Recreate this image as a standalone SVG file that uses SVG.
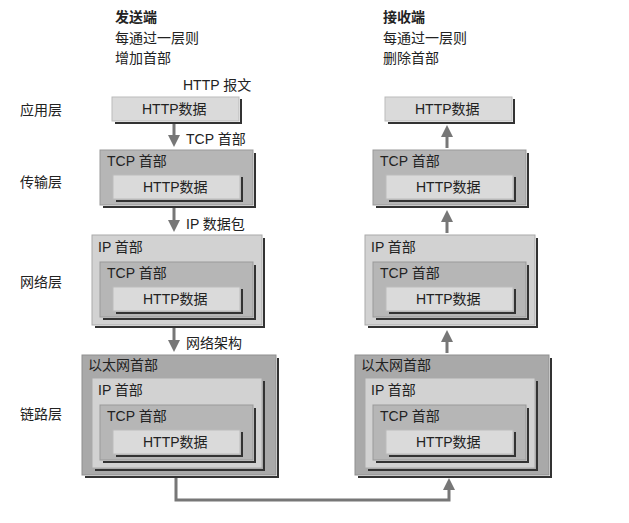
<svg xmlns="http://www.w3.org/2000/svg" width="629" height="523" viewBox="0 0 629 523">
<style>
text{font-family:"Liberation Sans","Noto Sans CJK SC",sans-serif;font-size:14px;fill:#222}
.b{font-weight:bold}
.l1{fill:#dadada;stroke:#bbb;stroke-width:1}
.l2{fill:#b6b6b6;stroke:#999;stroke-width:1}
.l3{fill:#d2d2d2;stroke:#aaa;stroke-width:1}
.l4{fill:#a9a9a9;stroke:#909090;stroke-width:1}
.sh{fill:none;stroke:#333;stroke-width:2}
.c{fill:none;stroke:#777;stroke-width:3}
</style>
<defs>
<marker id="ah" markerWidth="4" markerHeight="4" refX="2" refY="2" orient="auto" markerUnits="strokeWidth"><path d="M0,0 L4,2 L0,4 z" fill="#777"/></marker>
<g id="http"><rect class="l1" x="0" y="0" width="127" height="24"/><polyline class="sh" points="129,2 129,26 3,26"/><text x="30" y="17">HTTP数据</text></g>
<g id="tcp"><rect class="l2" x="0" y="0" width="153" height="55"/><polyline class="sh" points="155,3 155,57 3,57"/><text x="7" y="16">TCP 首部</text><use href="#http" x="13" y="25"/></g>
<g id="ip"><rect class="l3" x="0" y="0" width="170" height="90"/><polyline class="sh" points="172,3 172,92 3,92"/><text x="6" y="17">IP 首部</text><use href="#tcp" x="8" y="27"/></g>
<g id="eth"><rect class="l4" x="0" y="0" width="194" height="120"/><polyline class="sh" points="196,3 196,122 3,122"/><text x="6" y="15">以太网首部</text><use href="#ip" x="10" y="23"/></g>
</defs>
<g id="headers">
<text class="b" x="115" y="22">发送端</text><text x="115" y="43">每通过一层则</text><text x="115" y="63">增加首部</text>
<text class="b" x="383" y="22">接收端</text><text x="383" y="43">每通过一层则</text><text x="383" y="63">删除首部</text>
<text x="183" y="90">HTTP 报文</text>
</g>
<g id="layers">
<text x="20" y="115">应用层</text><text x="20" y="187">传输层</text><text x="20" y="287">网络层</text><text x="20" y="419">链路层</text>
</g>
<g id="send-app"><use href="#http" x="112" y="97"/></g>
<g id="send-tcp"><use href="#tcp" x="100" y="150"/></g>
<g id="send-ip"><use href="#ip" x="92" y="235"/></g>
<g id="send-eth"><use href="#eth" x="82" y="355"/></g>
<g id="recv-app"><use href="#http" x="385" y="97"/></g>
<g id="recv-tcp"><use href="#tcp" x="373" y="150"/></g>
<g id="recv-ip"><use href="#ip" x="365" y="235"/></g>
<g id="recv-eth"><use href="#eth" x="355" y="355"/></g>
<g id="connectors">
<line class="c" x1="174" y1="124" x2="174" y2="141" marker-end="url(#ah)"/>
<line class="c" x1="174" y1="208" x2="174" y2="226" marker-end="url(#ah)"/>
<line class="c" x1="174" y1="328" x2="174" y2="346" marker-end="url(#ah)"/>
<polyline class="c" points="176,478 176,500 449,500 449,484" marker-end="url(#ah)"/>
<line class="c" x1="447" y1="353" x2="447" y2="336" marker-end="url(#ah)"/>
<line class="c" x1="447" y1="233" x2="447" y2="216" marker-end="url(#ah)"/>
<line class="c" x1="447" y1="148" x2="447" y2="131" marker-end="url(#ah)"/>
<text x="186" y="144">TCP 首部</text>
<text x="186" y="229">IP 数据包</text>
<text x="186" y="348">网络架构</text>
</g>
</svg>
